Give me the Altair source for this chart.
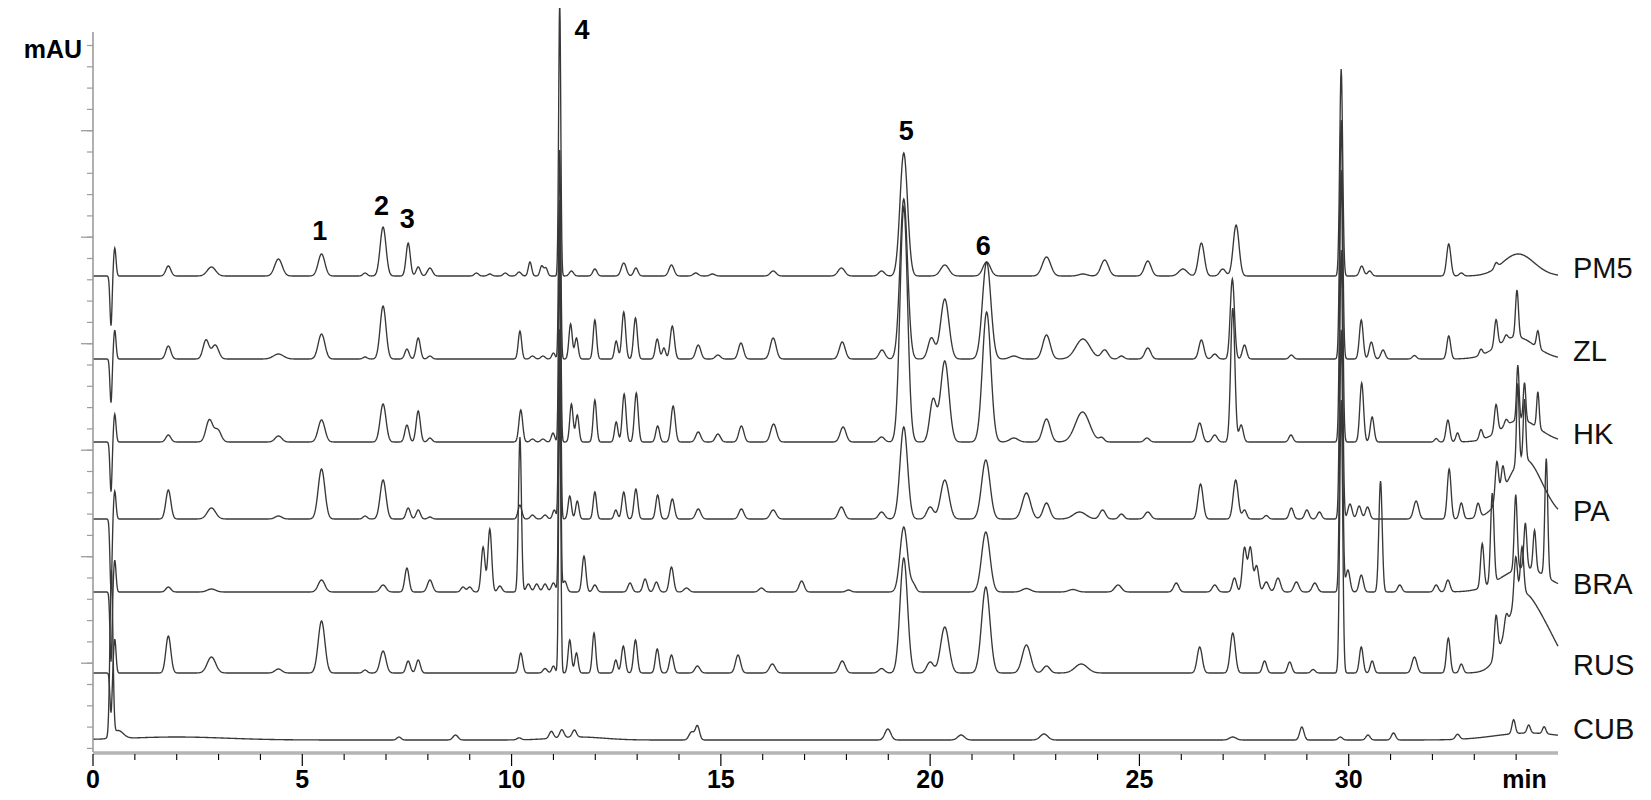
import altair as alt
import numpy as np
import pandas as pd

alt.data_transformers.disable_max_rows()

# ---------------- data ----------------
TRACES = ["PM5", "ZL", "HK", "PA", "BRA", "RUS", "CUB"]
# baseline of each trace (stacked offsets, mAU-like units)
BASELINES = [476, 393, 310, 233, 160, 79, 12]

# peaks: (retention time [min], height, width sigma [min])
PEAKS_PM5 = [
    (0.43, -50, 0.025), (0.52, 28, 0.03),
    (1.80, 10, 0.06), (2.83, 9, 0.1), (4.43, 17, 0.09), (5.46, 22, 0.08),
    (6.50, 3, 0.05), (6.93, 49, 0.07), (7.53, 33, 0.05), (7.77, 9, 0.05), (8.05, 8, 0.06),
    (9.16, 3, 0.05), (9.48, 2, 0.05), (9.85, 3, 0.05), (10.18, 4, 0.05), (10.44, 14, 0.04),
    (10.72, 10, 0.04), (10.82, 8, 0.04),
    (11.15, 276, 0.025),
    (11.43, 5, 0.05), (11.99, 7, 0.05), (12.68, 13, 0.06), (12.97, 8, 0.05), (13.82, 11, 0.06),
    (14.4, 3, 0.06), (14.8, 2, 0.06), (16.25, 5, 0.07), (17.88, 8, 0.08), (18.84, 5, 0.07),
    (19.37, 123, 0.09), (20.35, 11, 0.1), (21.35, 14, 0.09), (22.78, 19, 0.1), (23.65, 2, 0.1),
    (24.17, 16, 0.09), (25.2, 15, 0.08), (26.04, 7, 0.1), (26.48, 33, 0.07), (26.99, 7, 0.07),
    (27.31, 51, 0.07),
    (29.82, 207, 0.035), (30.31, 10, 0.05), (30.5, 5, 0.05), (32.39, 32, 0.05), (32.69, 3, 0.05),
    (33.52, 5, 0.04), (34.05, 22, 0.38),
]
PEAKS_ZL = [
    (0.43, -44, 0.025), (0.52, 29, 0.03),
    (1.80, 13, 0.06), (2.70, 19, 0.07), (2.92, 14, 0.08), (4.43, 5, 0.12), (5.46, 25, 0.08),
    (6.5, 2, 0.05), (6.93, 53, 0.07), (7.50, 10, 0.05), (7.77, 21, 0.05), (8.05, 3, 0.05),
    (10.2, 28, 0.04), (10.5, 3, 0.05), (10.75, 3, 0.05), (11.0, 6, 0.04),
    (11.15, 209, 0.025),
    (11.41, 35, 0.04), (11.55, 21, 0.04), (11.99, 39, 0.04), (12.5, 18, 0.04), (12.68, 47, 0.045),
    (12.96, 41, 0.045), (13.48, 20, 0.045), (13.64, 11, 0.04), (13.84, 33, 0.05), (14.46, 14, 0.06),
    (14.93, 4, 0.06), (15.48, 16, 0.06), (16.25, 21, 0.07), (17.9, 17, 0.07), (18.85, 9, 0.07),
    (19.37, 160, 0.09), (20.03, 21, 0.08), (20.35, 60, 0.1), (21.35, 97, 0.1), (22.0, 3, 0.1),
    (22.78, 24, 0.09), (23.65, 20, 0.17), (24.17, 9, 0.08), (24.57, 3, 0.06), (25.2, 11, 0.07),
    (26.48, 19, 0.06), (26.8, 5, 0.06), (27.22, 80, 0.05), (27.51, 14, 0.05), (28.63, 4, 0.05),
    (29.82, 239, 0.035), (30.3, 39, 0.045), (30.54, 17, 0.05), (30.82, 9, 0.05), (31.57, 3.5, 0.05),
    (32.39, 23, 0.045), (33.16, 6, 0.04), (33.52, 27, 0.04), (33.76, 5, 0.04), (34.02, 47, 0.035),
    (34.52, 17, 0.035), (34.0, 22, 0.45),
]
PEAKS_HK = [
    (0.43, -50, 0.025), (0.52, 28, 0.03),
    (1.80, 7, 0.06), (2.78, 22, 0.08), (2.98, 12, 0.08), (4.43, 6, 0.08), (5.46, 22, 0.08),
    (6.93, 38, 0.07), (7.50, 17, 0.05), (7.77, 31, 0.05), (8.05, 4, 0.05),
    (10.22, 32, 0.045), (10.5, 3, 0.05), (10.75, 3, 0.05), (10.99, 9, 0.04),
    (11.15, 242, 0.025),
    (11.43, 38, 0.04), (11.57, 27, 0.04), (11.99, 42, 0.04), (12.5, 20, 0.04), (12.69, 48, 0.045),
    (12.98, 49, 0.045), (13.49, 16, 0.045), (13.86, 36, 0.05), (14.46, 10, 0.06), (14.93, 8, 0.06),
    (15.49, 16, 0.06), (16.26, 18, 0.07), (17.92, 15, 0.07), (18.84, 5, 0.07),
    (19.37, 235, 0.09), (20.07, 42, 0.08), (20.35, 81, 0.1), (21.35, 130, 0.1), (22.0, 4, 0.1),
    (22.78, 23, 0.09), (23.64, 30, 0.17), (24.1, 4, 0.06), (25.18, 4, 0.06), (26.44, 19, 0.06),
    (26.8, 7, 0.06), (27.23, 134, 0.05), (27.43, 17, 0.05), (28.62, 7, 0.05),
    (29.82, 272, 0.035), (30.31, 59, 0.045), (30.56, 25, 0.045), (32.09, 3.5, 0.04), (32.37, 22, 0.045),
    (32.6, 9, 0.04), (33.16, 10, 0.04), (33.52, 28, 0.04), (33.76, 6, 0.04), (34.04, 55, 0.03),
    (34.2, 38, 0.03), (34.52, 36, 0.03), (34.1, 22, 0.45),
]
PEAKS_PA = [
    (0.43, -70, 0.025), (0.52, 28, 0.03),
    (1.80, 29, 0.06), (2.83, 11, 0.1), (4.43, 3, 0.08), (5.46, 50, 0.08), (6.5, 3, 0.05),
    (6.93, 39, 0.07), (7.53, 11, 0.05), (7.77, 9, 0.05), (8.05, 2, 0.05),
    (10.2, 14, 0.045), (10.5, 4, 0.05), (10.8, 4, 0.05), (11.02, 9, 0.04),
    (11.15, 269, 0.025),
    (11.39, 23, 0.04), (11.57, 18, 0.04), (11.99, 27, 0.04), (12.49, 9, 0.04), (12.68, 27, 0.045),
    (12.97, 30, 0.045), (13.49, 24, 0.045), (13.84, 20, 0.05), (14.46, 10, 0.06), (15.49, 10, 0.06),
    (16.25, 9, 0.07), (17.88, 12, 0.07), (18.84, 7, 0.07),
    (19.37, 92, 0.09), (20.0, 12, 0.08), (20.35, 39, 0.1), (21.33, 59, 0.1), (22.3, 26, 0.1),
    (22.78, 16, 0.08), (23.57, 7, 0.15), (24.12, 9, 0.07), (24.57, 5, 0.06), (25.2, 7, 0.07),
    (26.46, 35, 0.06), (27.3, 39, 0.06), (27.51, 9, 0.05), (28.03, 3.5, 0.05), (28.63, 11, 0.05),
    (29.0, 9, 0.05), (29.3, 7, 0.05),
    (29.82, 269, 0.035), (30.03, 15, 0.05), (30.25, 13, 0.05), (30.45, 12, 0.05), (31.61, 18, 0.06),
    (32.4, 50, 0.045), (32.69, 16, 0.045), (33.09, 14, 0.045), (33.54, 40, 0.04), (33.68, 25, 0.04),
    (34.04, 80, 0.03), (34.2, 60, 0.03), (34.2, 60, 0.42),
]
PEAKS_BRA = [
    (0.43, -70, 0.025), (0.52, 32, 0.03),
    (1.80, 5, 0.06), (2.83, 3, 0.1), (5.46, 12, 0.08), (6.93, 7, 0.07), (7.5, 24, 0.05),
    (8.05, 12, 0.06), (8.84, 5, 0.05), (9.0, 5, 0.05), (9.32, 45, 0.045), (9.48, 63, 0.045),
    (9.72, 6, 0.05),
    (10.2, 155, 0.035), (10.4, 8, 0.05), (10.6, 8, 0.05), (10.8, 8, 0.05), (11.0, 9, 0.05),
    (11.15, 262, 0.025),
    (11.27, 11, 0.05), (11.73, 36, 0.045), (11.99, 7, 0.05), (12.83, 9, 0.05), (13.19, 13, 0.05),
    (13.46, 10, 0.05), (13.82, 25, 0.05), (14.18, 4, 0.06), (15.97, 4, 0.06), (16.93, 11, 0.06),
    (18.05, 2, 0.06),
    (19.37, 65, 0.09), (19.6, 7, 0.06), (21.33, 60, 0.1), (22.3, 3.5, 0.1), (23.41, 2.5, 0.1),
    (24.49, 7, 0.08), (25.88, 9, 0.06), (26.8, 7, 0.06), (27.27, 14, 0.05), (27.51, 44, 0.05),
    (27.65, 44, 0.05), (27.8, 26, 0.05), (28.03, 10, 0.06), (28.31, 14, 0.06), (28.75, 10, 0.06),
    (29.19, 9, 0.06),
    (29.82, 262, 0.035), (29.98, 22, 0.05), (30.3, 17, 0.05), (30.76, 111, 0.04), (31.22, 7, 0.05),
    (32.09, 7, 0.05), (32.37, 12, 0.05), (33.19, 44, 0.04), (33.43, 90, 0.04), (33.99, 75, 0.035),
    (34.22, 45, 0.035), (34.44, 40, 0.035), (34.72, 118, 0.035), (34.2, 24, 0.55),
]
PEAKS_RUS = [
    (0.43, -40, 0.025), (0.52, 34, 0.03),
    (1.80, 37, 0.06), (2.83, 16, 0.1), (4.43, 4, 0.08), (5.46, 52, 0.08), (6.5, 3, 0.05),
    (6.93, 22, 0.07), (7.53, 12, 0.05), (7.77, 13, 0.05),
    (10.22, 20, 0.045), (10.8, 4.5, 0.05), (11.0, 7, 0.04),
    (11.15, 293, 0.025),
    (11.39, 33, 0.04), (11.55, 20, 0.04), (11.97, 40, 0.04), (12.49, 13, 0.04), (12.67, 27, 0.045),
    (12.96, 33, 0.045), (13.48, 24, 0.045), (13.82, 18, 0.05), (14.44, 7, 0.06), (15.41, 18, 0.06),
    (16.23, 9, 0.07), (17.9, 12, 0.07), (18.84, 4.5, 0.07),
    (19.37, 115, 0.09), (20.0, 11, 0.08), (20.35, 46, 0.1), (21.33, 86, 0.1), (22.3, 28, 0.1),
    (22.78, 7, 0.08), (23.61, 9, 0.15), (26.44, 26, 0.06), (27.23, 40, 0.06), (27.99, 12, 0.05),
    (28.59, 11, 0.05), (29.15, 3.5, 0.05),
    (29.82, 273, 0.035), (30.3, 26, 0.045), (30.56, 12, 0.045), (31.57, 16, 0.06), (32.38, 35, 0.045),
    (32.69, 9, 0.045), (33.52, 40, 0.04), (33.76, 14, 0.04), (33.99, 45, 0.04), (34.14, 47, 0.04),
    (34.1, 70, 0.35), (34.7, 35, 0.35),
]
PEAKS_CUB = [
    (0.44, 165, 0.035), (0.6, 8, 0.12), (2.0, 3, 1.2),
    (7.31, 3, 0.05), (8.66, 5, 0.06), (10.18, 2, 0.05), (10.95, 7, 0.05), (11.2, 8, 0.05),
    (11.5, 7, 0.05), (11.6, 3, 0.6), (14.3, 8, 0.06), (14.44, 14, 0.05),
    (18.99, 11, 0.07), (20.74, 5, 0.08), (22.72, 6, 0.09), (27.23, 3, 0.08), (28.88, 13, 0.05),
    (29.8, 3, 0.05), (30.46, 5, 0.05), (31.07, 7, 0.05), (32.6, 5, 0.05), (33.94, 14, 0.04),
    (34.3, 8, 0.04), (34.67, 7, 0.04), (34.3, 7, 0.8),
]
ALL_PEAKS = [PEAKS_PM5, PEAKS_ZL, PEAKS_HK, PEAKS_PA, PEAKS_BRA, PEAKS_RUS, PEAKS_CUB]

# numbered compound labels
PEAK_NUMBERS = ["1", "2", "3", "4", "5", "6"]
PEAK_NUMBER_T = [5.42, 6.89, 7.51, 11.68, 19.43, 21.27]
PEAK_NUMBER_Y = [520, 545, 532, 721, 620, 505]

# x axis: labelled ticks, unit label, minor ticks
X_TICKS = [0, 5, 10, 15, 20, 25, 30]
X_TICK_LABELS = ["0", "5", "10", "15", "20", "25", "30"]
X_UNIT = "min"
X_UNIT_POS = 34.2
X_MINOR = [m for m in range(1, 35) if m % 5 != 0]
Y_UNIT = "mAU"

# ---------------- build traces ----------------
t = np.round(np.arange(0, 35.0001, 0.01), 3)
frames = []
for name, base, peaks in zip(TRACES, BASELINES, ALL_PEAKS):
    y = np.full(t.shape, float(base))
    for c, h, s in peaks:
        y += h * np.exp(-0.5 * ((t - c) / s) ** 2)
    frames.append(pd.DataFrame({"t": t, "y": np.round(y, 2), "trace": name}))
df = pd.concat(frames, ignore_index=True)

labels_df = pd.DataFrame({
    "trace": TRACES,
    "yl": [b + (10 if n == "CUB" else 7) for n, b in zip(TRACES, BASELINES)],
})
nums_df = pd.DataFrame({"txt": PEAK_NUMBERS, "t": PEAK_NUMBER_T, "y": PEAK_NUMBER_Y})
xt_df = pd.DataFrame({"t": X_TICKS + [X_UNIT_POS], "lab": X_TICK_LABELS + [X_UNIT]})
xmaj_df = pd.DataFrame({"t": X_TICKS})
xmin_df = pd.DataFrame({"t": X_MINOR})

# y axis tick positions (unlabelled): minor every step, major every fifth
Y_STEP = 21.3
Y_MINOR = [round(3.6 + Y_STEP * k, 1) for k in range(34)]
Y_MAJOR = [Y_MINOR[k] for k in (4, 9, 14, 19, 24, 29)]

W, H = 1465, 720
FONT = "Liberation Sans"
xs = alt.Scale(domain=[0, 35], nice=False, zero=False)
ys = alt.Scale(domain=[0, 720], nice=False, zero=False)
AXIS_GRAY = "#9c9c9c"

lines = alt.Chart(df).mark_line(color="#383838", strokeWidth=1.35).encode(
    x=alt.X("t:Q", scale=xs, axis=None),
    y=alt.Y("y:Q", scale=ys, axis=None),
    detail="trace:N",
)

# axis lines
x_domain = alt.Chart(pd.DataFrame({"a": [0]})).mark_rule(color="#b5b5b5", strokeWidth=3.5).encode(
    x=alt.value(0), x2=alt.value(W), y=alt.value(H + 1))
y_domain = alt.Chart(pd.DataFrame({"a": [0]})).mark_rule(color=AXIS_GRAY, strokeWidth=1.6).encode(
    x=alt.value(0), y=alt.value(0), y2=alt.value(H))

# y ticks
y_minor = alt.Chart(pd.DataFrame({"v": Y_MINOR})).mark_rule(color=AXIS_GRAY, strokeWidth=1.2).encode(
    y=alt.Y("v:Q", scale=ys, axis=None), x=alt.value(-6), x2=alt.value(0))
y_major = alt.Chart(pd.DataFrame({"v": Y_MAJOR})).mark_rule(color=AXIS_GRAY, strokeWidth=1.3).encode(
    y=alt.Y("v:Q", scale=ys, axis=None), x=alt.value(-12), x2=alt.value(0))

# x ticks
x_major = alt.Chart(xmaj_df).mark_rule(color="#000", strokeWidth=1.2).encode(
    x=alt.X("t:Q", scale=xs, axis=None), y=alt.value(H + 2), y2=alt.value(H + 14))
x_minor = alt.Chart(xmin_df).mark_rule(color="#000", strokeWidth=1.1).encode(
    x=alt.X("t:Q", scale=xs, axis=None), y=alt.value(H + 2), y2=alt.value(H + 8))
x_labels = alt.Chart(xt_df).mark_text(
    align="center", baseline="middle", fontSize=25, font=FONT, fontWeight="bold", color="#000").encode(
    x=alt.X("t:Q", scale=xs, axis=None), y=alt.value(H + 28), text="lab:N")

trace_labels = alt.Chart(labels_df).mark_text(
    align="left", baseline="middle", fontSize=29, font=FONT, color="#111", dx=15).encode(
    x=alt.value(W), y=alt.Y("yl:Q", scale=ys, axis=None), text="trace:N")

num_labels = alt.Chart(nums_df).mark_text(
    align="center", baseline="middle", fontSize=27, font=FONT, fontWeight="bold", color="#000").encode(
    x=alt.X("t:Q", scale=xs, axis=None), y=alt.Y("y:Q", scale=ys, axis=None), text="txt:N")

mau = alt.Chart(pd.DataFrame({"s": [Y_UNIT]})).mark_text(
    align="right", baseline="middle", fontSize=25, font=FONT, fontWeight="bold", color="#000").encode(
    x=alt.value(-11), y=alt.value(18), text="s:N")

chart = alt.layer(
    lines, x_domain, y_domain, y_minor, y_major, x_major, x_minor, x_labels,
    trace_labels, num_labels, mau,
).properties(
    width=W, height=H,
    autosize=alt.AutoSizeParams(type="none"),
    padding={"left": 85, "top": 24, "right": 85, "bottom": 40},
    background="white",
).configure_view(stroke=None)

chart.save("out.html", embed_options={"renderer": "svg", "actions": False})
